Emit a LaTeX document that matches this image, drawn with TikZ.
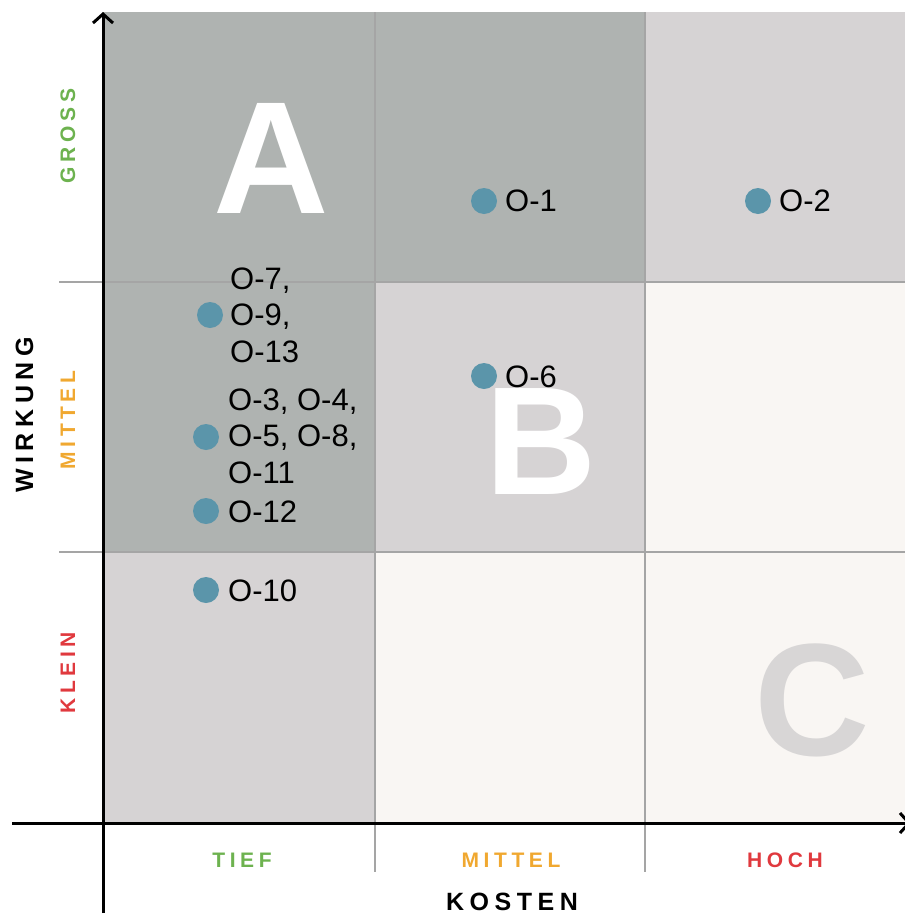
\documentclass[tikz,border=0pt]{standalone}
\usepackage{fontspec}
\setmainfont{Liberation Sans}
\newfontfamily\spacedfont{Liberation Sans}[LetterSpace=22]
\usetikzlibrary{arrows.meta}
\definecolor{cellA}{HTML}{AFB3B1}
\definecolor{cellB}{HTML}{D6D3D4}
\definecolor{cellC}{HTML}{F9F6F3}
\definecolor{dotblue}{HTML}{5B95AA}
\definecolor{lblgreen}{HTML}{6DB24F}
\definecolor{lblorange}{HTML}{F0A830}
\definecolor{lblred}{HTML}{E0393E}
\definecolor{gridgray}{HTML}{A5A5A5}
\definecolor{letterC}{HTML}{D8D6D6}
\begin{document}
\begin{tikzpicture}[x=1pt,y=-1pt,
  gridline/.style={gridgray, line width=1.3pt},
  axisline/.style={black, line width=3pt, -{Straight Barb[length=9pt,width=20pt]}},
  dotmark/.style={circle, fill=dotblue, minimum size=26pt, inner sep=0pt},
  olabel/.style={anchor=base west, inner sep=0pt, font=\fontsize{31}{36.5}\selectfont, align=left},
  bigletter/.style={anchor=base, inner sep=0pt, font=\bfseries\fontsize{160}{160}\selectfont},
  levellabel/.style={anchor=base, inner sep=0pt, font=\spacedfont\bfseries\fontsize{21}{21}\selectfont},
  axistitle/.style={anchor=base, inner sep=0pt, font=\spacedfont\bfseries\fontsize{25}{25}\selectfont}]
\useasboundingbox (0,0) rectangle (905,916);
% cells
\fill[cellA] (103,12) rectangle (375,282);
\fill[cellA] (375,12) rectangle (645,282);
\fill[cellB] (645,12) rectangle (906,282);
\fill[cellA] (103,282) rectangle (375,552);
\fill[cellB] (375,282) rectangle (645,552);
\fill[cellC] (645,282) rectangle (906,552);
\fill[cellB] (103,552) rectangle (375,823);
\fill[cellC] (375,552) rectangle (645,823);
\fill[cellC] (645,552) rectangle (906,823);
% grid lines
\coordinate (h1a) at (59,282); \coordinate (h1b) at (906,282);
\coordinate (h2a) at (59,552); \coordinate (h2b) at (906,552);
\coordinate (v1a) at (375,12); \coordinate (v1b) at (375,872);
\coordinate (v2a) at (645,12); \coordinate (v2b) at (645,872);
\draw[gridline] (h1a) -- (h1b);
\draw[gridline] (h2a) -- (h2b);
\draw[gridline] (v1a) -- (v1b);
\draw[gridline] (v2a) -- (v2b);
% axes
\coordinate (yaxis0) at (103,913); \coordinate (yaxis1) at (103,12);
\coordinate (xaxis0) at (12,823); \coordinate (xaxis1) at (911,823);
\draw[axisline] (yaxis0) -- (yaxis1);
\draw[axisline] (xaxis0) -- (xaxis1);
% big letters
\node[bigletter, white] (letA) at (271,213) {A};
\node[bigletter, white, font=\bfseries\fontsize{154}{154}\selectfont] (letB) at (541,494) {B};
\node[bigletter, letterC] (letC) at (812,755) {C};
% dots and labels
\node[dotmark] (d1) at (484,201) {};
\node[olabel] (t1) at (505,211) {O-1};
\node[dotmark] (d2) at (758,201) {};
\node[olabel] (t2) at (779,211) {O-2};
\node[dotmark] (d9) at (210,315) {};
\node[olabel] (t9) at (230,362) {O-7,\\O-9,\\O-13};
\node[dotmark] (d5) at (206,437) {};
\node[olabel] (t5) at (228,483) {O-3, O-4,\\O-5, O-8,\\O-11};
\node[dotmark] (d12) at (206,511) {};
\node[olabel] (t12) at (228,522) {O-12};
\node[dotmark] (d10) at (206,590) {};
\node[olabel] (t10) at (228,601) {O-10};
\node[dotmark] (d6) at (484,376) {};
\node[olabel] (t6) at (505,387) {O-6};
% level labels
\node[levellabel, lblgreen, rotate=90] (gross) at (75,136) {GROSS};
\node[levellabel, lblorange, rotate=90] (mittelv) at (75,420) {MITTEL};
\node[levellabel, lblred, rotate=90] (klein) at (75,673) {KLEIN};
\node[levellabel, lblgreen] (tief) at (242,867) {TIEF};
\node[levellabel, lblorange] (mittelh) at (511,867) {MITTEL};
\node[levellabel, lblred] (hoch) at (785,867) {HOCH};
% axis titles
\node[axistitle, rotate=90] (wirkung) at (33,415) {WIRKUNG};
\node[axistitle] (kosten) at (512,910) {KOSTEN};
\end{tikzpicture}
\end{document}
